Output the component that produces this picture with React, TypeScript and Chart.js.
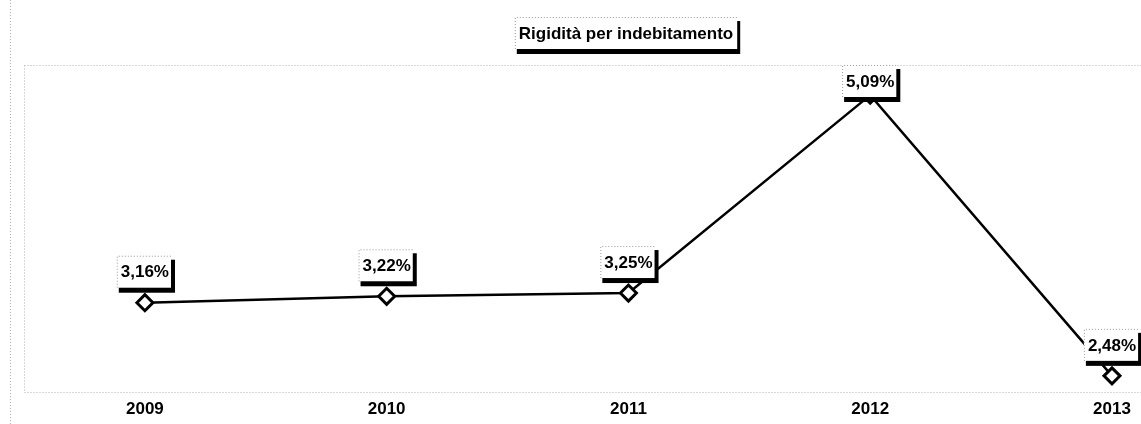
import React, { useEffect, useRef } from "react";
import { Chart, registerables } from "chart.js";

Chart.register(...registerables);

const TITLE = "Rigidità per indebitamento";
const years = [2009, 2010, 2011, 2012, 2013];
const values = [3.16, 3.22, 3.25, 5.09, 2.48];

const FONT = "'Liberation Sans', Arial, sans-serif";

const fmt = (v: number) => v.toFixed(2).replace(".", ",") + "%";

function drawShadowBox(ctx: CanvasRenderingContext2D, x: number, y: number, w: number, h: number, shR: number, shB: number) {
  ctx.save();
  ctx.fillStyle = "#000";
  ctx.fillRect(x + 2, y + 4, w + shR - 2, h + shB - 4);
  ctx.fillStyle = "#fff";
  ctx.fillRect(x, y, w, h);
  ctx.setLineDash([1, 2]);
  ctx.strokeStyle = "#9a9a9a";
  ctx.lineWidth = 1;
  ctx.beginPath();
  ctx.moveTo(x + 0.5, y + h);
  ctx.lineTo(x + 0.5, y + 0.5);
  ctx.lineTo(x + w, y + 0.5);
  ctx.stroke();
  ctx.restore();
}

const decorPlugin = {
  id: "decor",
  beforeDatasetsDraw(chart: any) {
    const { ctx, chartArea } = chart;
    ctx.save();
    ctx.setLineDash([1, 2]);
    ctx.strokeStyle = "#b0b0b0";
    ctx.lineWidth = 1;
    ctx.beginPath();
    ctx.moveTo(chartArea.left + 0.5, chartArea.top + 0.5);
    ctx.lineTo(chartArea.right, chartArea.top + 0.5);
    ctx.moveTo(chartArea.left + 0.5, chartArea.top + 0.5);
    ctx.lineTo(chartArea.left + 0.5, chartArea.bottom + 0.5);
    ctx.lineTo(chartArea.right, chartArea.bottom + 0.5);
    ctx.moveTo(10.5, 0);
    ctx.lineTo(10.5, chart.height);
    ctx.stroke();
    ctx.restore();

    // title box
    ctx.save();
    ctx.font = `bold 17px ${FONT}`;
    const tw = ctx.measureText(TITLE).width;
    const cx = 626;
    const cy = 33;
    const bw = tw + 8;
    const bh = 32;
    drawShadowBox(ctx, cx - bw / 2, cy - bh / 2, bw, bh, 3, 5);
    ctx.fillStyle = "#000";
    ctx.textAlign = "center";
    ctx.textBaseline = "middle";
    ctx.fillText(TITLE, cx, cy + 1);
    ctx.restore();
  },
  afterDatasetsDraw(chart: any) {
    const { ctx, chartArea } = chart;
    const meta = chart.getDatasetMeta(0);
    ctx.save();
    ctx.font = `bold 17px ${FONT}`;
    meta.data.forEach((pt: any, i: number) => {
      const text = fmt(values[i]);
      const w = ctx.measureText(text).width + 6;
      const h = 32;
      let cy = pt.y - 31;
      if (cy - h / 2 < chartArea.top) cy = chartArea.top + h / 2;
      const x = pt.x - w / 2 - 1;
      const y = cy - h / 2;
      drawShadowBox(ctx, x, y, w, h, 4, 5);
      ctx.fillStyle = "#000";
      ctx.textAlign = "center";
      ctx.textBaseline = "middle";
      ctx.fillText(text, pt.x, cy + 1);
    });
    ctx.restore();
  },
};

export default function App() {
  const ref = useRef<HTMLCanvasElement | null>(null);
  useEffect(() => {
    if (!ref.current) return;
    const chart = new Chart(ref.current, {
      type: "line",
      data: {
        datasets: [
          {
            data: years.map((y, i) => ({ x: y, y: values[i] })),
            borderColor: "#000",
            borderWidth: 2.5,
            pointStyle: "rectRot",
            pointRadius: 8,
            pointBackgroundColor: "#fff",
            pointBorderColor: "#000",
            pointBorderWidth: 3,
            tension: 0,
            clip: false as any,
          },
        ],
      },
      options: {
        responsive: false,
        animation: false,
        layout: { autoPadding: false, padding: { left: 24, right: 0, top: 65, bottom: 6 } },
        plugins: {
          legend: { display: false },
          tooltip: { enabled: false },
          title: { display: false },
        },
        scales: {
          x: {
            type: "linear",
            min: 2008.5,
            max: 2013.12,
            afterBuildTicks: (scale: any) => {
              scale.ticks = years.map((v) => ({ value: v }));
            },
            afterFit: (scale: any) => {
              scale.height = 26;
            },
            grid: { display: false },
            border: { display: false },
            ticks: {
              color: "#000",
              font: { family: FONT, size: 17, weight: "bold" },
              padding: -1,
              maxRotation: 0,
              autoSkip: false,
              callback: (v: any) => String(v),
            },
          },
          y: {
            display: false,
            min: 2.33,
            max: 5.37,
          },
        },
      },
      plugins: [decorPlugin],
    });
    return () => chart.destroy();
  }, []);
  return (
    <div style={{ position: "absolute", left: 0, top: 0, width: 1141, height: 424, background: "#fff" }}>
      <canvas ref={ref} width={1141} height={424} />
    </div>
  );
}
